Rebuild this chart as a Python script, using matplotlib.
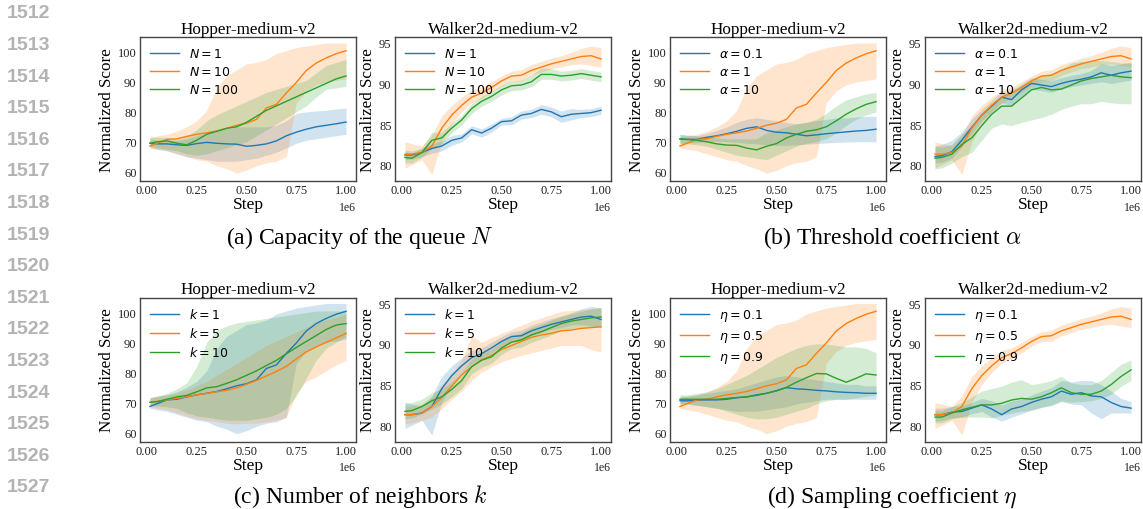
import numpy as np
import matplotlib
matplotlib.use('Agg')
import matplotlib.pyplot as plt

plt.rcParams['font.family'] = ['Liberation Serif', 'DejaVu Serif']
plt.rcParams['mathtext.fontset'] = 'dejavusans'

# training step (x 1e6) at which the curves were read
steps = [0.015, 0.05, 0.10, 0.15, 0.20, 0.25, 0.30, 0.35, 0.40, 0.45, 0.50,
         0.55, 0.60, 0.65, 0.70, 0.75, 0.80, 0.85, 0.90, 0.95, 1.00]

# default setting (N=10, alpha=1, k=1, eta=0.5), same run in every panel
hop_base_mean = [68.6, 69.5, 70.8, 71.0, 71.8, 72.5, 73.0, 73.6, 74.5, 75.5, 76.2,
                 77.5, 81.3, 82.5, 86.3, 89.8, 93.8, 96.3, 98.0, 99.4, 100.4]
hop_base_lo = [68.0, 67.5, 67.0, 66.0, 65.0, 64.0, 63.5, 62.0, 61.0, 59.5, 60.5,
               62.0, 63.0, 63.5, 65.0, 83.0, 87.0, 89.0, 90.0, 90.5, 91.0]
hop_base_hi = [71.5, 72.0, 72.5, 73.5, 75.0, 77.0, 80.5, 88.0, 92.0, 94.0, 96.0,
               96.5, 97.5, 99.5, 100.5, 101.5, 102.0, 102.5, 103.0, 103.0, 103.0]
walk_base_mean = [81.3, 81.3, 81.5, 82.3, 84.5, 86.1, 87.3, 88.3, 88.8, 89.5, 90.3,
                  90.9, 91.0, 91.6, 92.0, 92.4, 92.7, 93.0, 93.3, 93.4, 93.0]
walk_base_lo = [79.6, 80.0, 80.6, 78.8, 82.8, 85.0, 86.5, 87.6, 88.2, 88.9, 89.7,
                90.3, 90.3, 91.0, 91.4, 91.8, 92.0, 92.3, 92.4, 92.2, 92.0]
walk_base_hi = [82.8, 82.6, 82.3, 83.6, 86.0, 87.3, 88.3, 89.2, 89.5, 90.2, 90.9,
                91.5, 91.7, 92.3, 92.7, 93.1, 93.4, 93.8, 94.3, 94.6, 94.4]

# (a) capacity of the queue N
hop_N1_mean = [69.5, 69.3, 69.3, 69.0, 68.8, 69.4, 69.8, 69.5, 69.3, 69.2, 68.5,
               68.8, 69.3, 70.3, 72.0, 73.2, 74.2, 75.0, 75.5, 76.0, 76.6]
hop_N1_lo = [68.0, 67.5, 67.0, 66.0, 65.0, 64.5, 64.0, 63.5, 63.5, 63.5, 64.0,
             64.5, 65.5, 66.5, 68.0, 69.5, 70.5, 71.0, 71.5, 72.0, 72.5]
hop_N1_hi = [71.0, 70.5, 70.5, 70.5, 71.0, 72.0, 73.0, 74.0, 74.5, 75.0, 75.0,
             75.0, 75.0, 75.5, 77.0, 79.5, 80.0, 80.3, 80.5, 81.0, 81.3]
hop_N100_mean = [69.5, 70.0, 70.3, 69.5, 69.0, 70.5, 72.5, 73.5, 74.5, 75.0, 76.5,
                 78.5, 80.5, 82.0, 83.5, 85.0, 86.5, 88.0, 89.5, 91.0, 92.0]
hop_N100_lo = [68.5, 68.0, 67.5, 67.0, 66.0, 65.5, 66.0, 67.0, 68.0, 69.0, 70.0,
               72.0, 74.0, 76.0, 78.0, 80.0, 82.0, 85.0, 87.5, 88.0, 88.5]
hop_N100_hi = [71.5, 71.5, 71.5, 71.0, 72.0, 74.0, 77.0, 79.0, 80.5, 82.0, 83.5,
               85.0, 86.5, 87.5, 88.5, 89.5, 90.5, 93.0, 95.5, 96.5, 97.5]
walk_N1_mean = [81.2, 81.2, 81.5, 82.0, 82.3, 83.0, 83.3, 84.3, 83.9, 84.5, 85.3,
                85.4, 86.1, 86.3, 86.8, 86.5, 85.9, 86.2, 86.3, 86.4, 86.7]
walk_N1_lo = [80.6, 80.7, 81.0, 81.4, 81.7, 82.4, 82.8, 83.8, 83.4, 84.0, 84.9,
              84.9, 85.6, 85.8, 86.2, 85.9, 85.2, 85.5, 85.8, 85.9, 86.2]
walk_N1_hi = [81.8, 81.7, 82.0, 82.6, 82.9, 83.6, 83.8, 84.8, 84.4, 85.0, 85.7,
              85.9, 86.6, 86.8, 87.4, 87.1, 86.6, 86.9, 86.8, 86.9, 87.2]
walk_N100_mean = [80.9, 80.8, 81.5, 83.0, 83.3, 84.5, 85.5, 86.9, 87.8, 88.4, 89.2,
                  89.7, 89.8, 90.2, 91.1, 91.1, 90.9, 91.0, 91.2, 91.0, 90.8]
walk_N100_lo = [80.2, 80.2, 80.9, 82.0, 82.6, 83.9, 84.9, 86.3, 87.2, 87.8, 88.6,
                89.1, 89.2, 89.6, 90.5, 90.5, 90.3, 90.4, 90.6, 90.4, 90.2]
walk_N100_hi = [81.6, 81.4, 82.1, 84.0, 84.0, 85.1, 86.1, 87.5, 88.4, 89.0, 89.8,
                90.3, 90.4, 91.0, 91.9, 91.8, 91.5, 91.6, 91.8, 91.6, 91.4]

# (b) threshold coefficient alpha
hop_a01_mean = [70.9, 70.8, 70.8, 71.5, 72.0, 72.7, 73.5, 74.5, 75.0, 73.8, 73.2,
                73.0, 72.5, 72.0, 72.3, 72.7, 73.0, 73.3, 73.6, 73.8, 74.2]
hop_a01_lo = [69.5, 69.6, 69.7, 70.0, 70.2, 70.0, 69.8, 69.5, 69.3, 69.0, 68.8,
              68.8, 69.0, 69.2, 69.4, 69.6, 69.8, 69.9, 70.0, 70.0, 70.0]
hop_a01_hi = [72.5, 72.0, 72.0, 72.8, 73.8, 75.0, 76.5, 77.5, 78.0, 77.5, 77.0,
              76.5, 76.0, 76.5, 77.0, 77.5, 78.0, 78.0, 78.3, 78.5, 78.5]
hop_a10_mean = [71.0, 70.8, 70.5, 70.0, 69.3, 68.9, 68.8, 67.9, 67.3, 68.5, 69.4,
                71.3, 72.5, 73.5, 74.0, 75.0, 77.0, 79.2, 81.0, 82.5, 83.4]
hop_a10_lo = [69.5, 69.3, 69.0, 68.5, 67.5, 66.5, 65.5, 65.0, 64.5, 64.0, 65.5,
              67.0, 68.5, 69.5, 70.0, 71.0, 73.0, 75.5, 77.5, 79.0, 80.0]
hop_a10_hi = [72.5, 72.3, 72.0, 71.5, 71.3, 71.0, 71.0, 71.0, 71.0, 73.0, 74.0,
              75.0, 76.0, 76.5, 77.5, 79.5, 82.0, 84.0, 85.0, 86.0, 86.5]
walk_a01_mean = [81.0, 81.1, 81.6, 83.0, 84.6, 86.1, 87.2, 88.3, 88.0, 89.2, 90.0,
                 89.8, 89.6, 90.0, 90.3, 90.5, 90.8, 91.3, 91.0, 91.3, 91.5]
walk_a01_lo = [80.2, 80.3, 80.8, 82.2, 83.8, 85.4, 86.5, 87.6, 87.3, 88.5, 89.3,
               89.1, 88.9, 89.3, 89.6, 89.8, 90.0, 90.2, 90.0, 90.2, 90.4]
walk_a01_hi = [82.3, 82.5, 83.0, 84.0, 85.6, 86.8, 87.9, 89.0, 88.7, 89.9, 90.7,
               90.5, 90.3, 90.7, 91.0, 91.2, 91.6, 92.4, 92.2, 92.4, 92.6]
walk_a10_mean = [80.8, 80.9, 81.3, 82.5, 83.3, 84.8, 86.2, 87.2, 87.2, 88.2, 89.2,
                 89.5, 89.2, 89.3, 89.8, 90.3, 90.6, 90.8, 91.0, 90.8, 90.7]
walk_a10_lo = [79.5, 79.6, 80.2, 81.0, 81.5, 83.0, 84.5, 85.0, 84.8, 85.2, 85.5,
               85.8, 86.2, 86.8, 87.2, 87.5, 87.5, 87.8, 87.6, 87.5, 87.5]
walk_a10_hi = [82.2, 82.2, 82.5, 83.8, 84.8, 86.2, 87.5, 88.5, 89.3, 89.8, 90.5,
               91.0, 91.2, 91.8, 92.5, 92.7, 92.8, 92.8, 92.7, 92.5, 92.5]

# (c) number of neighbors k
hop_k5_mean = [70.0, 70.3, 70.8, 71.3, 71.8, 72.5, 73.0, 73.5, 74.0, 74.8, 76.0,
               77.3, 78.8, 80.3, 82.0, 84.5, 86.8, 88.5, 90.0, 91.5, 93.0]
hop_k5_lo = [68.5, 68.0, 67.5, 66.5, 65.5, 64.5, 64.0, 63.5, 63.0, 62.8, 63.0,
             63.0, 63.5, 64.0, 65.0, 73.0, 77.0, 78.5, 80.5, 82.5, 84.0]
hop_k5_hi = [71.5, 72.0, 72.5, 73.0, 74.0, 75.5, 77.0, 79.0, 81.0, 83.0, 85.0,
             87.0, 89.0, 90.5, 92.0, 93.5, 95.0, 96.5, 97.5, 98.5, 99.5]
hop_k10_mean = [70.0, 70.2, 71.0, 71.8, 72.3, 73.5, 74.8, 75.2, 76.3, 77.5, 79.0,
                80.5, 82.3, 84.0, 86.2, 88.3, 90.3, 92.3, 94.3, 95.8, 96.3]
hop_k10_lo = [69.0, 68.8, 68.5, 68.0, 66.5, 65.5, 65.0, 64.5, 64.0, 64.0, 64.0,
              64.5, 65.0, 66.0, 68.0, 72.0, 78.0, 84.0, 88.0, 90.0, 92.0]
hop_k10_hi = [71.5, 72.0, 73.0, 74.5, 76.5, 82.0, 90.0, 94.0, 95.5, 96.5, 97.0,
              97.5, 98.0, 98.5, 99.0, 99.5, 100.0, 100.5, 100.5, 100.5, 100.5]
walk_k5_mean = [81.3, 81.3, 81.5, 82.3, 83.4, 84.8, 86.2, 87.2, 88.0, 88.6, 89.3,
                89.8, 90.3, 90.8, 91.1, 91.3, 91.6, 91.7, 91.9, 92.0, 92.1]
walk_k5_lo = [80.2, 80.3, 80.6, 81.0, 82.0, 83.2, 84.2, 85.5, 86.5, 87.2, 87.8,
              88.2, 88.6, 88.9, 89.2, 89.5, 89.8, 89.8, 89.8, 89.3, 89.0]
walk_k5_hi = [82.3, 82.4, 82.6, 83.5, 85.0, 86.3, 88.0, 91.0, 90.2, 90.8, 91.3,
              91.8, 92.3, 92.8, 93.2, 93.6, 94.0, 94.1, 94.2, 94.3, 94.4]
walk_k10_mean = [81.7, 81.8, 82.3, 83.0, 83.5, 84.4, 85.5, 87.2, 88.0, 88.4, 89.5,
                 90.2, 90.5, 91.1, 91.5, 92.0, 92.5, 92.8, 93.0, 93.2, 93.3]
walk_k10_lo = [80.8, 80.9, 81.4, 82.0, 82.6, 83.5, 84.5, 86.3, 87.1, 87.6, 88.7,
               89.4, 89.6, 90.2, 90.6, 91.1, 91.6, 91.9, 92.0, 92.1, 92.2]
walk_k10_hi = [82.7, 82.8, 83.2, 84.0, 84.5, 85.3, 86.5, 88.1, 88.9, 89.3, 90.3,
               91.0, 91.4, 92.0, 92.4, 92.9, 93.4, 93.7, 94.0, 94.3, 94.5]

# (d) sampling coefficient eta
hop_e01_mean = [70.5, 70.5, 70.7, 70.8, 70.8, 71.0, 71.5, 71.8, 72.5, 73.0, 73.9,
                74.9, 74.5, 74.3, 74.0, 73.8, 73.5, 73.3, 73.2, 73.0, 73.0]
hop_e01_lo = [69.5, 69.5, 69.0, 68.5, 68.0, 67.5, 67.0, 67.0, 67.0, 67.5, 68.0,
              68.5, 69.5, 70.0, 70.5, 71.0, 71.0, 71.0, 71.0, 71.0, 71.0]
hop_e01_hi = [72.0, 72.0, 72.5, 73.0, 73.5, 74.0, 74.5, 75.5, 76.5, 77.5, 78.5,
              79.0, 78.5, 78.0, 77.5, 77.0, 76.5, 76.0, 76.0, 75.5, 75.5]
hop_e09_mean = [71.0, 71.0, 71.0, 71.0, 71.0, 71.3, 71.6, 71.8, 72.3, 73.0, 73.8,
                75.0, 76.7, 78.2, 79.6, 79.5, 78.0, 76.7, 78.0, 79.5, 79.1]
hop_e09_lo = [69.5, 69.5, 69.0, 68.5, 68.0, 67.0, 66.0, 65.0, 64.5, 64.5, 65.0,
              66.0, 67.0, 68.0, 69.5, 70.5, 71.0, 71.0, 71.5, 72.0, 72.5]
hop_e09_hi = [72.5, 72.5, 73.0, 73.5, 74.5, 76.0, 77.5, 79.0, 81.0, 83.0, 85.0,
              86.5, 88.0, 89.0, 89.5, 89.5, 89.0, 88.5, 88.5, 88.0, 86.5]
walk_e01_mean = [81.3, 81.3, 81.6, 81.7, 82.1, 82.5, 82.0, 81.3, 82.0, 82.3, 82.8,
                 83.2, 83.5, 84.2, 83.8, 84.0, 83.6, 83.5, 82.8, 82.3, 82.1]
walk_e01_lo = [80.5, 80.6, 80.9, 81.0, 81.4, 81.7, 81.0, 80.5, 81.0, 81.4, 81.9,
               82.2, 82.4, 82.9, 82.6, 82.5, 81.5, 80.8, 81.5, 81.5, 81.5]
walk_e01_hi = [82.1, 82.1, 82.3, 82.4, 82.8, 83.3, 83.0, 82.5, 83.0, 83.2, 83.7,
               84.2, 84.6, 85.5, 85.3, 85.5, 85.5, 85.0, 84.2, 83.3, 82.9]
walk_e09_mean = [81.0, 81.0, 81.5, 81.9, 82.2, 82.5, 82.5, 82.7, 83.1, 83.3, 83.2,
                 83.5, 84.0, 84.6, 84.0, 83.8, 83.8, 84.2, 85.0, 86.0, 86.8]
walk_e09_lo = [80.3, 80.3, 80.8, 81.0, 81.0, 81.0, 80.9, 81.2, 81.5, 81.7, 81.8,
               82.2, 82.5, 83.0, 82.8, 82.9, 83.0, 83.3, 83.8, 84.8, 85.5]
walk_e09_hi = [81.8, 81.8, 82.3, 82.8, 83.5, 84.2, 84.5, 84.8, 85.3, 85.6, 85.0,
               85.2, 85.5, 86.0, 85.2, 85.0, 85.0, 85.5, 86.5, 87.5, 88.0]

hop_base = (hop_base_mean, hop_base_lo, hop_base_hi)
walk_base = (walk_base_mean, walk_base_lo, walk_base_hi)

colors = ['#1f77b4', '#ff7f0e', '#2ca02c']
W, H = 1143, 510
fig = plt.figure(figsize=(W / 100, H / 100), dpi=100)

def panel(left, top, title, walker, series, labels):
    ax = fig.add_axes([left / W, 1 - (top + 144) / H, 216 / W, 144 / H])
    x = np.array(steps) * 1e6
    for (m, lo, hi), lab, c in zip(series, labels, colors):
        ax.plot(x, m, color=c, lw=1, label=lab)
        ax.fill_between(x, lo, hi, color=c, alpha=0.2, lw=0)
    ax.set_xlim(-0.035e6, 1.05e6)
    ax.set_xticks([0, 0.25e6, 0.5e6, 0.75e6, 1e6])
    if walker:
        ax.set_ylim(78.0, 95.7)
        ax.set_yticks([80, 85, 90, 95])
    else:
        ax.set_ylim(56.9, 105.0)
        ax.set_yticks([60, 70, 80, 90, 100])
    ax.tick_params(length=0, labelsize=9, pad=2.5, labelcolor='#222222')
    ax.xaxis.get_offset_text().set_fontsize(8.5)
    for s in ax.spines.values():
        s.set_color('#444444')
        s.set_linewidth(1.0)
    ax.set_title(title, fontsize=12.3, pad=3)
    ax.set_xlabel('Step', fontsize=12.5, labelpad=0)
    ax.set_ylabel('Normalized Score', fontsize=12.3, labelpad=2)
    ax.legend(loc='upper left', frameon=False, fontsize=9, handlelength=2.3,
              handletextpad=0.8, labelspacing=0.4, borderaxespad=0.4)
    return ax

row1, row2 = 38, 298.5
lefts = [140, 395, 670, 925]

panel(lefts[0], row1, 'Hopper-medium-v2', False,
      [(hop_N1_mean, hop_N1_lo, hop_N1_hi), hop_base,
       (hop_N100_mean, hop_N100_lo, hop_N100_hi)],
      ['$N=1$', '$N=10$', '$N=100$'])
panel(lefts[1], row1, 'Walker2d-medium-v2', True,
      [(walk_N1_mean, walk_N1_lo, walk_N1_hi), walk_base,
       (walk_N100_mean, walk_N100_lo, walk_N100_hi)],
      ['$N=1$', '$N=10$', '$N=100$'])
panel(lefts[2], row1, 'Hopper-medium-v2', False,
      [(hop_a01_mean, hop_a01_lo, hop_a01_hi), hop_base,
       (hop_a10_mean, hop_a10_lo, hop_a10_hi)],
      [r'$\alpha=0.1$', r'$\alpha=1$', r'$\alpha=10$'])
panel(lefts[3], row1, 'Walker2d-medium-v2', True,
      [(walk_a01_mean, walk_a01_lo, walk_a01_hi), walk_base,
       (walk_a10_mean, walk_a10_lo, walk_a10_hi)],
      [r'$\alpha=0.1$', r'$\alpha=1$', r'$\alpha=10$'])
panel(lefts[0], row2, 'Hopper-medium-v2', False,
      [hop_base, (hop_k5_mean, hop_k5_lo, hop_k5_hi),
       (hop_k10_mean, hop_k10_lo, hop_k10_hi)],
      ['$k=1$', '$k=5$', '$k=10$'])
panel(lefts[1], row2, 'Walker2d-medium-v2', True,
      [walk_base, (walk_k5_mean, walk_k5_lo, walk_k5_hi),
       (walk_k10_mean, walk_k10_lo, walk_k10_hi)],
      ['$k=1$', '$k=5$', '$k=10$'])
panel(lefts[2], row2, 'Hopper-medium-v2', False,
      [(hop_e01_mean, hop_e01_lo, hop_e01_hi), hop_base,
       (hop_e09_mean, hop_e09_lo, hop_e09_hi)],
      [r'$\eta=0.1$', r'$\eta=0.5$', r'$\eta=0.9$'])
panel(lefts[3], row2, 'Walker2d-medium-v2', True,
      [(walk_e01_mean, walk_e01_lo, walk_e01_hi), walk_base,
       (walk_e09_mean, walk_e09_lo, walk_e09_hi)],
      [r'$\eta=0.1$', r'$\eta=0.5$', r'$\eta=0.9$'])

# sub-captions
captions = ['(a) Capacity of the queue $N$', r'(b) Threshold coefficient $\alpha$',
            '(c) Number of neighbors $k$', r'(d) Sampling coefficient $\eta$']
cap_xy = [(360, 238), (892, 238), (360, 497), (892, 497)]
for txt, (cx, cy) in zip(captions, cap_xy):
    fig.text(cx / W, 1 - cy / H, txt, ha='center', va='center', fontsize=17,
             math_fontfamily='cm')

# page line numbers
for i in range(16):
    fig.text(28 / W, 1 - (14 + 31.6 * i) / H, str(1512 + i), ha='center',
             va='center', fontsize=14, color='#b3b3b3', fontweight='bold',
             family='Liberation Sans')

fig.savefig('out.png', dpi=100)
